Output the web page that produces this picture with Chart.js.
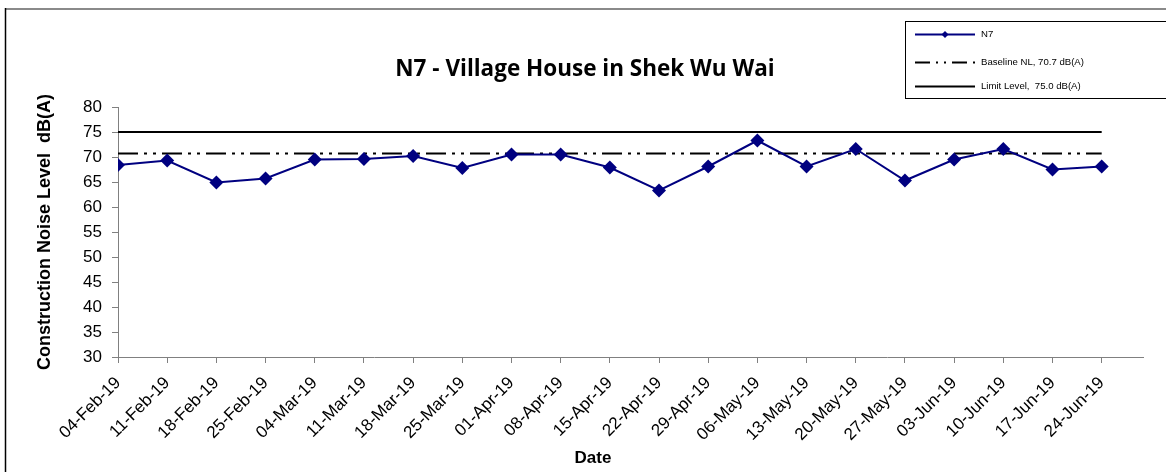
<!DOCTYPE html>
<html>
<head>
<meta charset="utf-8">
<script src="https://cdn.jsdelivr.net/npm/chart.js@4.4.1/dist/chart.umd.min.js"></script>
<style>
html,body{margin:0;padding:0;background:#fff;}
#wrap{width:1166px;height:472px;position:relative;}
</style>
</head>
<body>
<div id="wrap"><canvas id="c" width="1166" height="472"></canvas></div>
<script>
const dateLabels = ['04-Feb-19','11-Feb-19','18-Feb-19','25-Feb-19','04-Mar-19','11-Mar-19','18-Mar-19','25-Mar-19','01-Apr-19','08-Apr-19','15-Apr-19','22-Apr-19','29-Apr-19','06-May-19','13-May-19','20-May-19','27-May-19','03-Jun-19','10-Jun-19','17-Jun-19','24-Jun-19'];
const n7Values = [68.4, 69.3, 64.9, 65.7, 69.5, 69.6, 70.2, 67.8, 70.5, 70.5, 67.9, 63.3, 68.1, 73.3, 68.1, 71.6, 65.3, 69.5, 71.6, 67.5, 68.1];
const baselineLevel = 70.7;
const limitLevel = 75.0;
const yTicks = {min: 30, max: 80, step: 5};
const chartTitle = 'N7 - Village House in Shek Wu Wai';
const yTitle = 'Construction Noise Level  dB(A)';
const xTitle = 'Date';

const n7Data = n7Values.map((v, i) => ({x: i, y: v}));
const baseData = dateLabels.map((d, i) => ({x: i, y: baselineLevel}));
const limitData = dateLabels.map((d, i) => ({x: i, y: limitLevel}));

const frameAndLegend = {
  id: 'frameAndLegend',
  afterDraw(chart) {
    const ctx = chart.ctx;
    ctx.save();
    ctx.strokeStyle = '#8a8a8a'; ctx.lineWidth = 2;
    ctx.beginPath(); ctx.moveTo(5, 9); ctx.lineTo(1166, 9); ctx.stroke();
    ctx.strokeStyle = '#000'; ctx.lineWidth = 1.5;
    ctx.beginPath(); ctx.moveTo(5.5, 8); ctx.lineTo(5.5, 472); ctx.stroke();
    // chart title
    ctx.fillStyle = '#000';
    ctx.textAlign = 'center'; ctx.textBaseline = 'middle';
    ctx.font = 'bold 22.5px "Open Sans", sans-serif';
    ctx.fillText(chartTitle, 585, 70);
    // x axis title
    ctx.font = 'bold 17px "Liberation Sans", Arial, sans-serif';
    ctx.fillText(xTitle, 593, 458);
    // legend
    ctx.textAlign = 'left';
    ctx.lineWidth = 1; ctx.strokeStyle = '#000';
    ctx.strokeRect(905.5, 21.5, 275, 77);
    const rows = [34, 62, 86];
    ctx.font = '9.6px "Liberation Sans", Arial, sans-serif';
    chart.data.datasets.forEach((ds, i) => {
      const y = rows[i] + 0.5;
      ctx.strokeStyle = ds.borderColor;
      ctx.lineWidth = ds.borderWidth;
      ctx.setLineDash(ds.borderDash ? [15, 6, 2, 6, 2, 6] : []);
      ctx.beginPath(); ctx.moveTo(915, y); ctx.lineTo(975, y); ctx.stroke();
      ctx.setLineDash([]);
      if (ds.pointRadius > 0) {
        ctx.fillStyle = ds.pointBackgroundColor;
        ctx.beginPath();
        ctx.moveTo(945, y - 3.5); ctx.lineTo(948.5, y); ctx.lineTo(945, y + 3.5); ctx.lineTo(941.5, y);
        ctx.closePath(); ctx.fill();
      }
      ctx.fillStyle = '#000';
      ctx.fillText(ds.label, 981, rows[i]);
    });
    ctx.restore();
  }
};

new Chart(document.getElementById('c'), {
  type: 'line',
  data: {
    datasets: [
      {label: 'N7', data: n7Data, borderColor: '#000080', backgroundColor: '#000080', borderWidth: 2,
       pointStyle: 'rectRot', pointRadius: 7, pointBackgroundColor: '#000080', pointBorderColor: '#000080', pointBorderWidth: 0, tension: 0},
      {label: 'Baseline NL, 70.7 dB(A)', data: baseData, borderColor: '#000', borderWidth: 2,
       borderDash: [20, 6, 3, 6, 3, 6], pointRadius: 0, pointBackgroundColor: '#000'},
      {label: 'Limit Level,  75.0 dB(A)', data: limitData, borderColor: '#000', borderWidth: 2,
       pointRadius: 0, pointBackgroundColor: '#000'}
    ]
  },
  options: {
    responsive: false,
    animation: false,
    events: [],
    layout: {padding: {left: 0, right: 23, top: 107, bottom: 0}},
    plugins: {
      legend: {display: false},
      tooltip: {enabled: false},
      title: {display: false, text: chartTitle}
    },
    scales: {
      x: {
        type: 'linear', min: 0, max: 20.84,
        afterBuildTicks: (s) => { s.ticks = s.ticks.filter(t => Number.isInteger(t.value)); },
        afterFit: (s) => { s.height = 115; },
        ticks: {stepSize: 1, autoSkip: false, maxRotation: 45, minRotation: 45, padding: 10,
          color: '#000', font: {family: '"Liberation Sans", Arial, sans-serif', size: 17},
          callback: (v) => dateLabels[v] || ''},
        grid: {drawOnChartArea: false, drawTicks: true, tickLength: 6, color: '#808080'},
        border: {display: true, color: '#808080', width: 1},
        title: {display: false, text: xTitle}
      },
      y: {
        min: yTicks.min, max: yTicks.max,
        afterFit: (s) => { s.width = 118; },
        ticks: {stepSize: yTicks.step, padding: 10, color: '#000',
          font: {family: '"Liberation Sans", Arial, sans-serif', size: 17}},
        grid: {drawOnChartArea: false, drawTicks: true, tickLength: 6, color: '#808080'},
        border: {display: true, color: '#808080', width: 1},
        title: {display: true, text: yTitle, color: '#000',
          font: {family: '"Liberation Sans", Arial, sans-serif', size: 18, weight: 'bold'},
          padding: {top: 34, bottom: 0}}
      }
    }
  },
  plugins: [frameAndLegend]
});
</script>
</body>
</html>
